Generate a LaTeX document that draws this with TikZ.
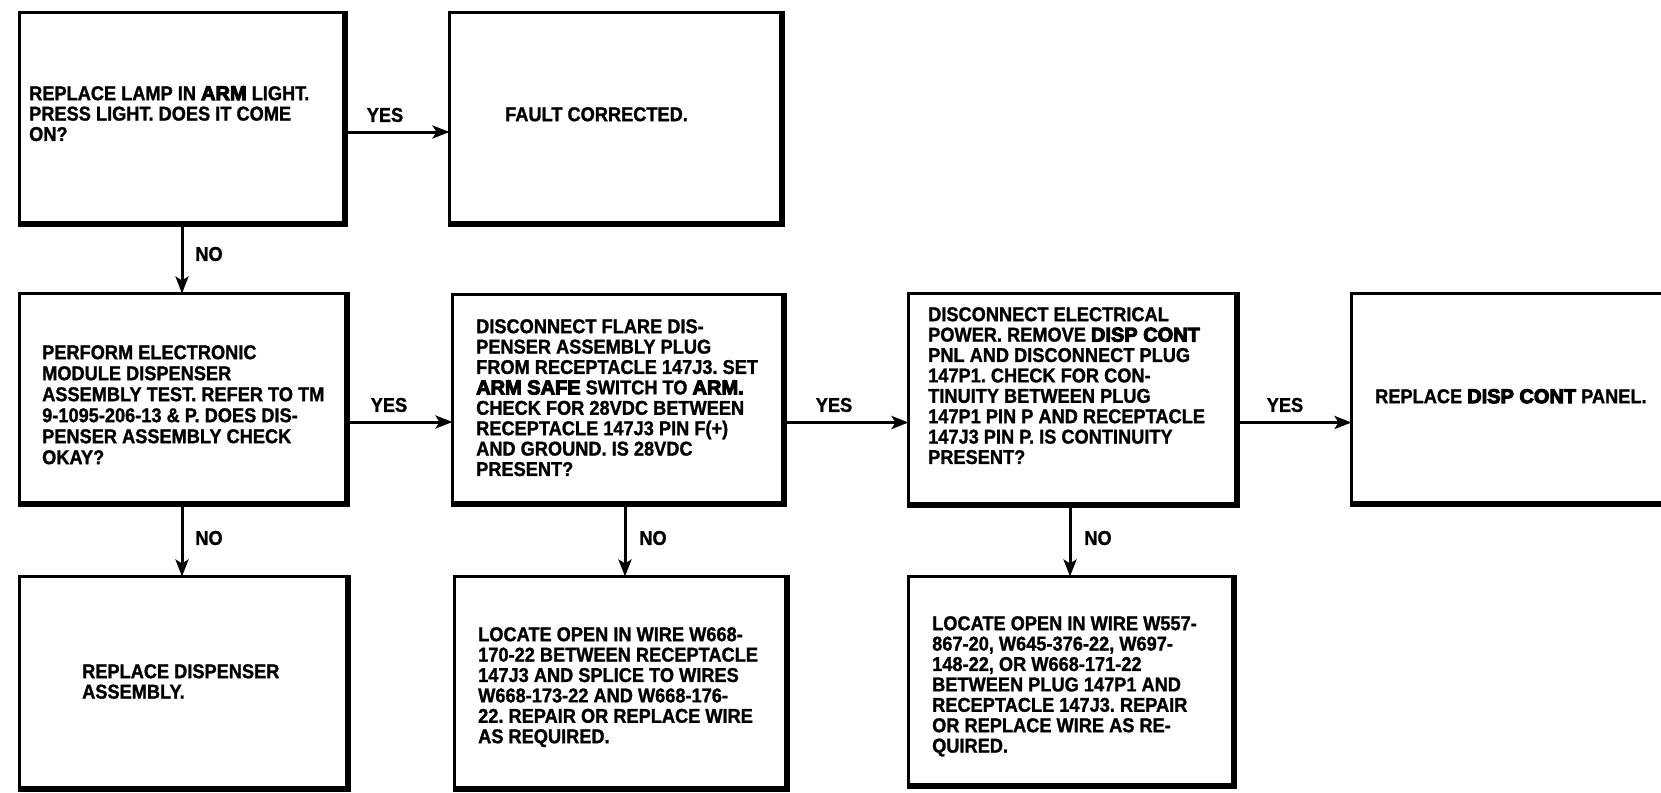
\documentclass[tikz,border=0pt]{standalone}
\usepackage{fontspec}
\setmainfont{Liberation Sans}[FakeStretch=0.91, BoldFeatures={FakeBold=1.2}]
\newfontfamily\heavyfont{Liberation Sans}[FakeStretch=1.0, BoldFeatures={FakeBold=5}]
\usetikzlibrary{arrows.meta}
\newcommand\hv[1]{{\heavyfont\bfseries #1}}
\frenchspacing
\tikzset{
 fbox/.style={draw, line width=3pt, rectangle, inner sep=0pt, outer sep=0pt},
 edgeln/.style={line width=6pt},
 txt/.style={anchor=north west, inner sep=0pt, align=left, font=\fontsize{20}{20.4}\selectfont\bfseries},
 lbl/.style={inner sep=0pt, font=\fontsize{20}{20}\selectfont\bfseries},
 arr/.style={line width=3pt, -{Stealth[length=17pt,width=13pt,inset=4pt]}},
}
\newcommand\mkbox[5]{%
  \node[fbox, minimum width={(#4-#2-3)*1pt}, minimum height={(#5-#3-3)*1pt}] (#1) at ({(#2+#4)/2},{(#3+#5)/2}) {};
  \draw[edgeln] ([xshift=-1.5pt]#1.north east) -- ([xshift=-1.5pt,yshift=1.5pt]#1.south east) -- ([yshift=1.5pt]#1.south west);
}
\begin{document}
\begin{tikzpicture}[x=1pt,y=-1pt]
\useasboundingbox[fill=white] (0,0) rectangle (1661,792);
\mkbox{A}{18}{11}{348}{227}
\mkbox{B}{448}{11}{785}{227}
\mkbox{C}{18}{292}{350}{507}
\mkbox{D}{451}{293}{787}{507}
\mkbox{E}{907}{292}{1240}{508}
\mkbox{F}{1350}{292}{1690}{507}
\mkbox{G}{18}{575}{351}{792}
\mkbox{H}{453}{575}{790}{792}
\mkbox{I}{907}{575}{1237}{789}

\node[txt] (tA) at (29,86) {REPLACE LAMP IN \hv{ARM} LIGHT.\\PRESS LIGHT. DOES IT COME\\ON?};
\node[txt] (tB) at (505,107) {FAULT CORRECTED.};
\node[txt, font=\fontsize{20}{21}\selectfont\bfseries] (tC) at (42,345) {PERFORM ELECTRONIC\\MODULE DISPENSER\\ASSEMBLY TEST. REFER TO TM\\9-1095-206-13 \& P. DOES DIS-\\PENSER ASSEMBLY CHECK\\OKAY?};
\node[txt] (tD) at (476,319) {DISCONNECT FLARE DIS-\\PENSER ASSEMBLY PLUG\\FROM RECEPTACLE 147J3. SET\\\hv{ARM SAFE} SWITCH TO \hv{ARM.}\\CHECK FOR 28VDC BETWEEN\\RECEPTACLE 147J3 PIN F(+)\\AND GROUND. IS 28VDC\\PRESENT?};
\node[txt] (tE) at (928,307) {DISCONNECT ELECTRICAL\\POWER. REMOVE \hv{DISP CONT}\\PNL AND DISCONNECT PLUG\\147P1. CHECK FOR CON-\\TINUITY BETWEEN PLUG\\147P1 PIN P AND RECEPTACLE\\147J3 PIN P. IS CONTINUITY\\PRESENT?};
\node[txt] (tF) at (1375,389) {REPLACE \hv{DISP CONT} PANEL.};
\node[txt] (tG) at (82,664) {REPLACE DISPENSER\\ASSEMBLY.};
\node[txt] (tH) at (478,627) {LOCATE OPEN IN WIRE W668-\\170-22 BETWEEN RECEPTACLE\\147J3 AND SPLICE TO WIRES\\W668-173-22 AND W668-176-\\22. REPAIR OR REPLACE WIRE\\AS REQUIRED.};
\node[txt] (tI) at (932,616) {LOCATE OPEN IN WIRE W557-\\867-20, W645-376-22, W697-\\148-22, OR W668-171-22\\BETWEEN PLUG 147P1 AND\\RECEPTACLE 147J3. REPAIR\\OR REPLACE WIRE AS RE-\\QUIRED.};

\draw[arr] ([yshift=-13pt]A.east) -- ([yshift=-13pt]A.east -| B.west);
\draw[arr] ([xshift=-1pt]A.south) -- ([xshift=-1pt]A.south |- C.north);
\draw[arr] ([yshift=-22.5pt]C.east) -- ([yshift=-22.5pt]C.east -| D.west);
\draw[arr] ([yshift=-22.5pt]D.east) -- ([yshift=-22.5pt]D.east -| E.west);
\draw[arr] ([yshift=-22.5pt]E.east) -- ([yshift=-22.5pt]E.east -| F.west);
\draw[arr] ([xshift=-2pt]C.south) -- ([xshift=-2pt]C.south |- G.north);
\draw[arr] ([xshift=6pt]D.south) -- ([xshift=6pt]D.south |- H.north);
\draw[arr] ([xshift=-3.5pt]E.south) -- ([xshift=-3.5pt]E.south |- I.north);

\node[lbl] (y1) at (385,115) {YES};
\node[lbl] (n1) at (209,254) {NO};
\node[lbl] (y2) at (389,405) {YES};
\node[lbl] (y3) at (834,405) {YES};
\node[lbl] (y4) at (1285,405) {YES};
\node[lbl] (n2) at (209,538) {NO};
\node[lbl] (n3) at (653,538) {NO};
\node[lbl] (n4) at (1098,538) {NO};
\end{tikzpicture}
\end{document}
